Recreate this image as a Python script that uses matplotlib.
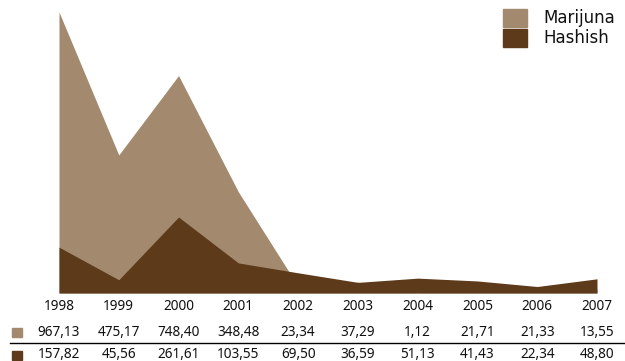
import matplotlib
matplotlib.use("Agg")
import matplotlib.pyplot as plt
import matplotlib.transforms as mtransforms
from matplotlib.patches import Rectangle
import numpy as np

years = ["1998", "1999", "2000", "2001", "2002", "2003", "2004", "2005", "2006", "2007"]
marijuana = [967.13, 475.17, 748.40, 348.48, 23.34, 37.29, 1.12, 21.71, 21.33, 13.55]
hashish = [157.82, 45.56, 261.61, 103.55, 69.50, 36.59, 51.13, 41.43, 22.34, 48.80]
series_names = ["Marijuna", "Hashish"]

c_mar = "#A3896D"
c_hash = "#5C3A1A"

W, H = 625, 361
fig = plt.figure(figsize=(W / 100, H / 100), dpi=100)
ax = fig.add_axes([59 / W, (H - 293) / H, (597 - 59) / W, (293 - 12) / H])
x = np.arange(len(years))
ax.fill_between(x, 0, marijuana, color=c_mar, linewidth=0)
ax.fill_between(x, 0, hashish, color=c_hash, linewidth=0)
ax.set_xlim(0, len(years) - 1)
ax.set_ylim(0, max(marijuana))
ax.axis("off")

def fmt(v):
    return f"{v:.2f}".replace(".", ",")

trans = mtransforms.blended_transform_factory(ax.transData, fig.transFigure)
def fy(py):
    return 1 - py / H

tfont = dict(family="Noto Sans", fontsize=9.8, color="#111111")
for i, yr in enumerate(years):
    ax.text(i, fy(307), yr, transform=trans, ha="center", va="center",
            clip_on=False, **tfont)
    ax.text(i, fy(332), fmt(marijuana[i]), transform=trans, ha="center", va="center",
            clip_on=False, **tfont)
    ax.text(i, fy(354), fmt(hashish[i]), transform=trans, ha="center", va="center",
            clip_on=False, **tfont)

# table squares and separator line
fig.patches.append(Rectangle((12 / W, fy(337)), 10 / W, 9 / H, color=c_mar,
                             transform=fig.transFigure, figure=fig))
fig.patches.append(Rectangle((12 / W, fy(360)), 10 / W, 9 / H, color=c_hash,
                             transform=fig.transFigure, figure=fig))
fig.add_artist(plt.Line2D([10 / W, 1.0], [fy(343), fy(343)], color="black",
                          linewidth=1.0, transform=fig.transFigure))

# legend
for (name, col, top) in zip(series_names, [c_mar, c_hash], [9, 29]):
    fig.patches.append(Rectangle((503 / W, fy(top + 18)), 24 / W, 18 / H, color=col,
                                 transform=fig.transFigure, figure=fig))
    fig.text(543 / W, fy(top + 9), name, ha="left", va="center", fontsize=12,
             color="#111111")

fig.savefig("out.png", dpi=100)
